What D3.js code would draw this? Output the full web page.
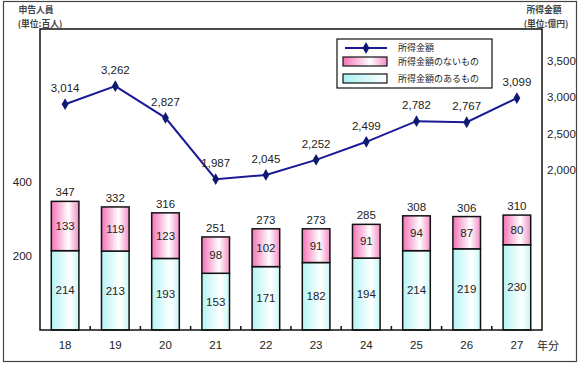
<!DOCTYPE html>
<html><head><meta charset="utf-8">
<script src="https://cdn.jsdelivr.net/npm/d3@7"></script>
<style>
body{margin:0;background:#fff;}
text{font-family:"Liberation Sans",Arial,"Noto Sans CJK JP",sans-serif;}
.jp{font-family:"Noto Sans CJK JP",sans-serif;}
</style></head>
<body><svg id="c" width="581" height="366"></svg>
<script>
const years = ["18","19","20","21","22","23","24","25","26","27"];
const incomeTotal = [3014,3262,2827,1987,2045,2252,2499,2782,2767,3099];
const noIncome = [133,119,123,98,102,91,91,94,87,80];
const withIncome = [214,213,193,153,171,182,194,214,219,230];
const leftTicks = [200,400];
const rightTicks = [2000,2500,3000,3500];

const svg = d3.select("#c");
const L=40, R=542, T=29, B=330;

const defs = svg.append("defs");
const gp = defs.append("linearGradient").attr("id","gp");
gp.append("stop").attr("offset","0%").attr("stop-color","#f472b6");
gp.append("stop").attr("offset","62%").attr("stop-color","#ffffff");
gp.append("stop").attr("offset","100%").attr("stop-color","#f48cc4");
const gc = defs.append("linearGradient").attr("id","gc");
gc.append("stop").attr("offset","0%").attr("stop-color","#b4f4f4");
gc.append("stop").attr("offset","68%").attr("stop-color","#ffffff");
gc.append("stop").attr("offset","100%").attr("stop-color","#c8f6f6");
const gcl = defs.append("linearGradient").attr("id","gcl");
gcl.append("stop").attr("offset","0%").attr("stop-color","#a8f0f0");
gcl.append("stop").attr("offset","100%").attr("stop-color","#ffffff");

// outer frame
svg.append("rect").attr("x",3.5).attr("y",1.5).attr("width",573).attr("height",360)
  .attr("fill","none").attr("stroke","#444").attr("stroke-width",1.2);

const x = d3.scaleBand().domain(years).range([L,R]).paddingInner(0.45).paddingOuter(0.225);
const yL = d3.scaleLinear().domain([0,812]).range([B,T]);
const yR = d3.scaleLinear().domain([-80,4045]).range([B,T]);

// bars
const stackData = years.map((y,i)=>({year:y, withI:withIncome[i], noI:noIncome[i]}));
const stack = d3.stack().keys(["withI","noI"])(stackData);
const fills = {withI:"url(#gc)", noI:"url(#gp)"};
stack.forEach(layer=>{
  svg.append("g").selectAll("rect").data(layer).join("rect")
    .attr("x",d=>x(d.data.year)).attr("width",x.bandwidth())
    .attr("y",d=>yL(d[1])).attr("height",d=>yL(d[0])-yL(d[1]))
    .attr("fill",fills[layer.key]).attr("stroke","#111").attr("stroke-width",1.5);
  svg.append("g").selectAll("text").data(layer).join("text")
    .attr("x",d=>x(d.data.year)+x.bandwidth()/2)
    .attr("y",d=>(yL(d[0])+yL(d[1]))/2+4)
    .attr("text-anchor","middle").attr("font-size",11.5).attr("fill","#222")
    .text(d=>d[1]-d[0]);
});
// totals
svg.append("g").selectAll("text").data(stackData).join("text")
  .attr("x",d=>x(d.year)+x.bandwidth()/2)
  .attr("y",d=>yL(d.withI+d.noI)-5)
  .attr("text-anchor","middle").attr("font-size",11.5).attr("fill","#222")
  .text(d=>d.withI+d.noI);

// plot frame
svg.append("rect").attr("x",L).attr("y",T).attr("width",R-L).attr("height",B-T)
  .attr("fill","none").attr("stroke","#111").attr("stroke-width",1.5);

// category separator ticks
const step = x.step();
svg.append("g").selectAll("line").data(years.slice(1)).join("line")
  .attr("x1",d=>x(d)-x.paddingInner()*step/2).attr("x2",d=>x(d)-x.paddingInner()*step/2)
  .attr("y1",B).attr("y2",B-4).attr("stroke","#111").attr("stroke-width",1.5);

// x axis labels
const xAxis = svg.append("g").attr("transform",`translate(0,${B})`)
  .call(d3.axisBottom(x).tickSize(0).tickPadding(11));
xAxis.select(".domain").remove();
xAxis.selectAll("text").attr("font-size",11.5).attr("fill","#222")
  .style("font-family",'"Liberation Sans",Arial,sans-serif');
svg.append("text").attr("class","jp").attr("x",537).attr("y",350).attr("font-size",11).attr("fill","#222").text("年分");

// left axis
const la = svg.append("g").attr("transform",`translate(${L},0)`)
  .call(d3.axisLeft(yL).tickValues(leftTicks).tickSize(0).tickPadding(8));
la.select(".domain").remove();
la.selectAll("text").attr("font-size",11.5).attr("fill","#222").style("font-family",'"Liberation Sans",Arial,sans-serif');

// right axis
const ra = svg.append("g").attr("transform",`translate(${R},0)`)
  .call(d3.axisRight(yR).tickValues(rightTicks).tickSize(0).tickPadding(5).tickFormat(d3.format(",")));
ra.select(".domain").remove();
ra.selectAll("text").attr("font-size",11.5).attr("fill","#222").attr("dy","-0.4em").style("font-family",'"Liberation Sans",Arial,sans-serif');

// line
const cx = d=>x(d)+x.bandwidth()/2;
const lineData = years.map((y,i)=>({year:y, v:incomeTotal[i]}));
svg.append("path").datum(lineData)
  .attr("d",d3.line().x(d=>cx(d.year)).y(d=>yR(d.v)))
  .attr("fill","none").attr("stroke","#1a1a96").attr("stroke-width",2);
const diamond = d3.symbol().type(d3.symbolDiamond).size(40);
svg.append("g").selectAll("path").data(lineData).join("path")
  .attr("transform",d=>`translate(${cx(d.year)},${yR(d.v)})`)
  .attr("d",diamond).attr("fill","#0d1a70");
svg.append("g").selectAll("text").data(lineData).join("text")
  .attr("x",d=>cx(d.year)).attr("y",d=>yR(d.v)-12)
  .attr("text-anchor","middle").attr("font-size",11.5).attr("fill","#222")
  .text(d=>d3.format(",")(d.v));

// titles
const tstyle = s=>s.attr("class","jp").attr("text-anchor","middle").attr("font-size",8.8).attr("font-weight","bold").attr("fill","#444");
svg.append("text").call(tstyle).attr("x",36).attr("y",13).text("申告人員");
svg.append("text").call(tstyle).attr("x",40).attr("y",27).text("(単位:百人)");
svg.append("text").call(tstyle).attr("x",544).attr("y",13).text("所得金額");
svg.append("text").call(tstyle).attr("x",546).attr("y",27).text("(単位:億円)");

// legend
const lg = svg.append("g");
lg.append("rect").attr("x",337).attr("y",39).attr("width",155).attr("height",49)
  .attr("fill","#fff").attr("stroke","#111").attr("stroke-width",1.2);
lg.append("line").attr("x1",345).attr("x2",387).attr("y1",48).attr("y2",48).attr("stroke","#1a1a96").attr("stroke-width",2);
lg.append("path").attr("transform","translate(366,48)").attr("d",diamond).attr("fill","#0d1a70");
lg.append("rect").attr("x",343).attr("y",57).attr("width",44).attr("height",9).attr("fill","url(#gp)").attr("stroke","#111").attr("stroke-width",1.2);
lg.append("rect").attr("x",343).attr("y",74).attr("width",44).attr("height",9).attr("fill","url(#gcl)").attr("stroke","#111").attr("stroke-width",1.2);
const lt = ["所得金額","所得金額のないもの","所得金額のあるもの"];
lg.selectAll("text.lt").data(lt).join("text").attr("class","jp lt")
  .attr("x",398).attr("y",(d,i)=>[51,65,82][i]).attr("font-size",9).attr("fill","#222").text(d=>d);
</script></body></html>
